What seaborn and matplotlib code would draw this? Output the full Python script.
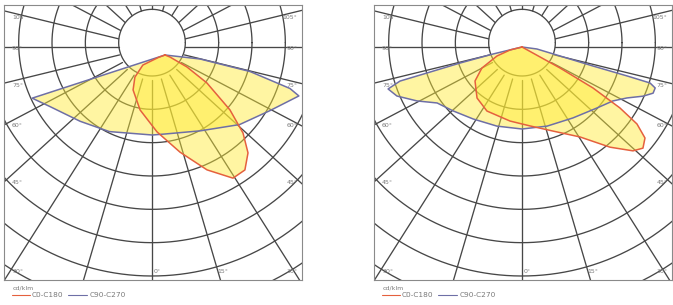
import numpy as np
import matplotlib
matplotlib.use("Agg")
import matplotlib.pyplot as plt
import seaborn as sns
from matplotlib.lines import Line2D

# ---------------- data (gamma in degrees from nadir, intensity in cd/klm) ----------------
# left diagram
left_c0_gamma = [-80, -70, -65.6, -53.7, -42.4, -24.4, -5.9, 8.8, 20.1, 28.9, 34.8, 40.3, 45, 49.8, 56.3, 61.4, 68, 75]
left_c0_I     = [0, 20, 73, 112, 142, 181, 232, 295, 367, 422, 420, 385, 331, 255, 151, 75, 16, 0]
left_c90_gamma = [-75, -72, -66, -52, -36, -9, 0, 25, 47, 62, 73, 75, 79, 83.5, 90]
left_c90_I     = [0, 419, 379, 323, 284, 243, 237, 251, 306, 356, 420, 388, 260, 106, 0]
# right diagram
right_c0_gamma = [-80, -76, -70.2, -62.3, -54.1, -41.4, -28.7, -9.2, 5.8, 20.3, 32.8, 41.3, 46.9, 50.1,
                  53.5, 56.2, 58.1, 60, 61.1, 65]
right_c0_I     = [0, 37, 80, 136, 174, 204, 219, 225, 238, 269, 321, 400, 456, 473,
                  459, 415, 346, 246, 130, 0]
right_c90_gamma = [-80, -76.4, -75.5, -74.7, -74.4, -72.6, -68.6, -62.8, -56.6, -47.2, -34.2, -17.6, 0,
                   17.6, 35.7, 50.9, 59.3, 64.1, 67.9, 70.6, 72.9, 74.3, 74.6, 75.0, 76.7, 82.4, 90]
right_c90_I     = [0, 90, 192, 296, 380, 421, 403, 354, 305, 282, 261, 249, 246,
                   249, 262, 290, 317, 350, 392, 417, 418, 399, 327, 220, 117, 45, 0]

ring_values = [100, 200, 300, 400, 500, 600, 700, 800, 900, 1000]
radial_angles = list(range(0, 360, 15))
side_labels = ["105°", "90°", "75°", "60°", "45°"]
bottom_labels = ["30°", "0°", "15°", "30°"]
legend_unit = "cd/klm"
series_names = ["C0-C180", "C90-C270"]

# ---------------- style ----------------
sns.set_theme(style="white")
plt.rcParams['font.family'] = ['DejaVu Sans']

RED = "#E5603E"
BLUE = "#6E6FA6"
FILL = "#FFEB32"
GRID = "#474747"
TXT = "#7a7a7a"

W, H = 673, 305
fig = plt.figure(figsize=(W / 100, H / 100), dpi=100)
fig.patch.set_facecolor("white")

side_y = [0.953, 0.84, 0.709, 0.56, 0.353]
YS = 0.912          # vertical compression of radial lines in the source drawing
RING_DY = 13        # rings sit slightly above the radial centre in the source drawing


def polar_xy(gamma, inten, origin):
    g = np.deg2rad(np.asarray(gamma, dtype=float))
    r = np.asarray(inten, dtype=float)
    return origin[0] + r * np.sin(g), origin[1] - r * np.cos(g)


def draw_panel(left_px, c0_g, c0_i, c90_g, c90_i, origin):
    ax = fig.add_axes([left_px / W, 25 / H, 298 / W, 275 / H])
    ax.set_xlim(-444, 450)
    ax.set_ylim(-699, 126)
    ax.set_xticks([])
    ax.set_yticks([])
    for s in ax.spines.values():
        s.set_color("#8a8a8a")
        s.set_linewidth(0.8)
    # concentric rings
    t = np.linspace(0, 2 * np.pi, 400)
    for rv in ring_values:
        ax.plot(rv * np.cos(t), RING_DY + rv * np.sin(t), color=GRID, lw=0.95, zorder=1)
    # radial lines
    for a in radial_angles:
        d = np.array([np.sin(np.deg2rad(a)), -YS * np.cos(np.deg2rad(a))])
        d = d / np.hypot(*d)
        r0 = 100 if np.cos(np.deg2rad(a)) > 0 else 100 + RING_DY * abs(np.cos(np.deg2rad(a)))
        ax.plot([r0 * d[0], 3000 * d[0]], [r0 * d[1], 3000 * d[1]], color=GRID, lw=0.95, zorder=1)

    x90, y90 = polar_xy(c90_g, c90_i, origin)
    x0, y0 = polar_xy(c0_g, c0_i, origin)
    ax.fill(x90, y90, color=FILL, alpha=0.45, lw=0, zorder=2)
    ax.fill(x0, y0, color=FILL, alpha=0.45, lw=0, zorder=2)
    sns.lineplot(x=np.append(x90, x90[0]), y=np.append(y90, y90[0]), sort=False, estimator=None,
                 color=BLUE, lw=1.1, ax=ax, zorder=3, legend=False)
    sns.lineplot(x=np.append(x0, x0[0]), y=np.append(y0, y0[0]), sort=False, estimator=None,
                 color=RED, lw=1.1, ax=ax, zorder=4, legend=False)
    ax.set_xlabel("")
    ax.set_ylabel("")

    fs = 4.5
    for lab, yy in zip(side_labels, side_y):
        ax.text(0.027, yy, lab, transform=ax.transAxes, fontsize=fs, color=TXT, va="center", ha="left", zorder=5)
        ax.text(0.985, yy, lab, transform=ax.transAxes, fontsize=fs, color=TXT, va="center", ha="right", zorder=5)
    ax.text(0.03, 0.03, bottom_labels[0], transform=ax.transAxes, fontsize=fs, color=TXT, va="center", ha="left")
    ax.text(0.503, 0.03, bottom_labels[1], transform=ax.transAxes, fontsize=fs, color=TXT, va="center", ha="left")
    ax.text(0.715, 0.03, bottom_labels[2], transform=ax.transAxes, fontsize=fs, color=TXT, va="center", ha="left")
    ax.text(0.985, 0.03, bottom_labels[3], transform=ax.transAxes, fontsize=fs, color=TXT, va="center", ha="right")

    # legend below the box
    fx = lambda px: px / W
    fy = lambda py: 1 - py / H
    fig.text(fx(left_px + 9), fy(288), legend_unit, fontsize=4.5, color=TXT, va="center", ha="left")
    fig.add_artist(Line2D([fx(left_px + 8), fx(left_px + 26)], [fy(295), fy(295)], color=RED, lw=0.8))
    fig.text(fx(left_px + 28), fy(295), series_names[0], fontsize=5.3, color=TXT, va="center", ha="left")
    fig.add_artist(Line2D([fx(left_px + 64), fx(left_px + 83)], [fy(295), fy(295)], color=BLUE, lw=0.8))
    fig.text(fx(left_px + 86), fy(295), series_names[1], fontsize=5.3, color=TXT, va="center", ha="left")
    return ax


draw_panel(4, left_c0_gamma, left_c0_I, left_c90_gamma, left_c90_I, origin=(39, -24))
draw_panel(374, right_c0_gamma, right_c0_I, right_c90_gamma, right_c90_I, origin=(0, 0))

fig.savefig("out.png", dpi=100, facecolor="white")
